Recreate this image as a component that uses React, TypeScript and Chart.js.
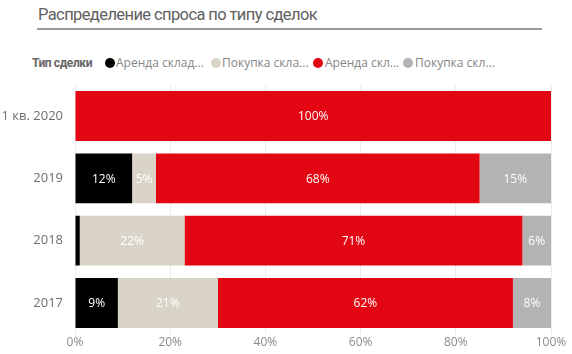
import React, { useEffect, useRef } from "react";
import { Chart, registerables } from "chart.js";

Chart.register(...registerables);

const categories = ["1 кв. 2020", "2019", "2018", "2017"];
const seriesNames = ["Аренда склад...", "Покупка скла...", "Аренда скл...", "Покупка скл..."];
const seriesColors = ["#000000", "#D9D4C7", "#E30613", "#B3B3B3"];
const rentWarehouse = [0, 12, 1, 9];
const buyWarehouse = [0, 5, 22, 21];
const rentOther = [100, 68, 71, 62];
const buyOther = [0, 15, 6, 8];
const xTicks = [0, 20, 40, 60, 80, 100];

const FONT = "'Open Sans', 'Noto Sans', sans-serif";
const TITLE_FONT = "Roboto, 'Liberation Sans', sans-serif";

const labelPlugin = {
  id: "segLabels",
  afterDatasetsDraw(chart: any) {
    const ctx = chart.ctx;
    ctx.save();
    ctx.font = `12px ${FONT}`;
    ctx.fillStyle = "#ffffff";
    ctx.textAlign = "center";
    ctx.textBaseline = "middle";
    chart.data.datasets.forEach((ds: any, di: number) => {
      const meta = chart.getDatasetMeta(di);
      meta.data.forEach((el: any, i: number) => {
        const v = ds.data[i];
        if (v < 3) return;
        const cx = (el.x + el.base) / 2;
        ctx.fillText(v + "%", cx, el.y + 1);
      });
    });
    ctx.restore();
  },
};

export default function App() {
  const ref = useRef<HTMLCanvasElement | null>(null);
  useEffect(() => {
    if (!ref.current) return;
    const data = [rentWarehouse, buyWarehouse, rentOther, buyOther];
    const chart = new Chart(ref.current, {
      type: "bar",
      data: {
        labels: categories,
        datasets: data.map((d, i) => ({
          label: seriesNames[i],
          data: d,
          backgroundColor: seriesColors[i],
          borderWidth: 0,
          categoryPercentage: 0.8,
          barPercentage: 1,
        })),
      },
      options: {
        indexAxis: "y",
        animation: false,
        responsive: false,
        maintainAspectRatio: false,
        layout: { padding: { top: 0, right: 21, left: 0, bottom: 0 } },
        plugins: { legend: { display: false }, tooltip: { enabled: false } },
        scales: {
          x: {
            stacked: true,
            min: 0,
            max: 100,
            afterFit: (s: any) => { s.height = 18.5; },
            afterBuildTicks: (s: any) => { s.ticks = xTicks.map((v) => ({ value: v })); },
            grid: { color: "#ececec", drawTicks: false },
            border: { display: false },
            ticks: {
              padding: 1,
              color: "#8a8a8a",
              font: { family: FONT, size: 12 },
              callback: (v: any) => v + "%",
            },
          },
          y: {
            stacked: true,
            afterFit: (s: any) => { s.width = 75; },
            grid: { display: false, drawTicks: false },
            border: { display: false },
            ticks: {
              padding: 12,
              color: "#6e6e6e",
              font: { family: FONT, size: 13 },
            },
          },
        },
      },
      plugins: [labelPlugin],
    });
    return () => chart.destroy();
  }, []);

  const legendItem = (i: number, left: number, textLeft: number) => (
    <React.Fragment key={i}>
      <div
        style={{
          position: "absolute",
          left,
          top: 58,
          width: 10,
          height: 10,
          borderRadius: 5,
          background: seriesColors[i],
        }}
      />
      <div
        style={{
          position: "absolute",
          left: textLeft,
          top: 54,
          fontSize: 12,
          lineHeight: "18px",
          color: "#858585",
          whiteSpace: "nowrap",
        }}
      >
        {seriesNames[i]}
      </div>
    </React.Fragment>
  );

  return (
    <div
      style={{
        position: "fixed",
        left: 0,
        top: 0,
        width: 572,
        height: 354,
        background: "#fff",
        fontFamily: FONT,
        overflow: "hidden",
      }}
    >
      <div
        style={{
          position: "absolute",
          left: 38,
          top: 4,
          fontFamily: TITLE_FONT,
          fontSize: 16.5,
          letterSpacing: "-0.6px",
          lineHeight: "22px",
          color: "#606060",
          whiteSpace: "nowrap",
        }}
      >
        Распределение спроса по типу сделок
      </div>
      <div
        style={{
          position: "absolute",
          left: 37,
          top: 28,
          width: 505,
          height: 2,
          background: "#9a9a9a",
        }}
      />
      <div
        style={{
          position: "absolute",
          left: 32,
          top: 54,
          fontFamily: TITLE_FONT,
          fontSize: 12,
          letterSpacing: "-0.4px",
          lineHeight: "18px",
          fontWeight: 700,
          color: "#666",
          whiteSpace: "nowrap",
        }}
      >
        Тип сделки
      </div>
      {legendItem(0, 105, 116)}
      {legendItem(1, 211, 222)}
      {legendItem(2, 313, 325)}
      {legendItem(3, 403, 415)}
      <div style={{ position: "absolute", left: 0, top: 65, width: 572, height: 289 }}>
        <canvas ref={ref} width={572} height={289} style={{ display: "block", width: 572, height: 289 }} />
      </div>
    </div>
  );
}
